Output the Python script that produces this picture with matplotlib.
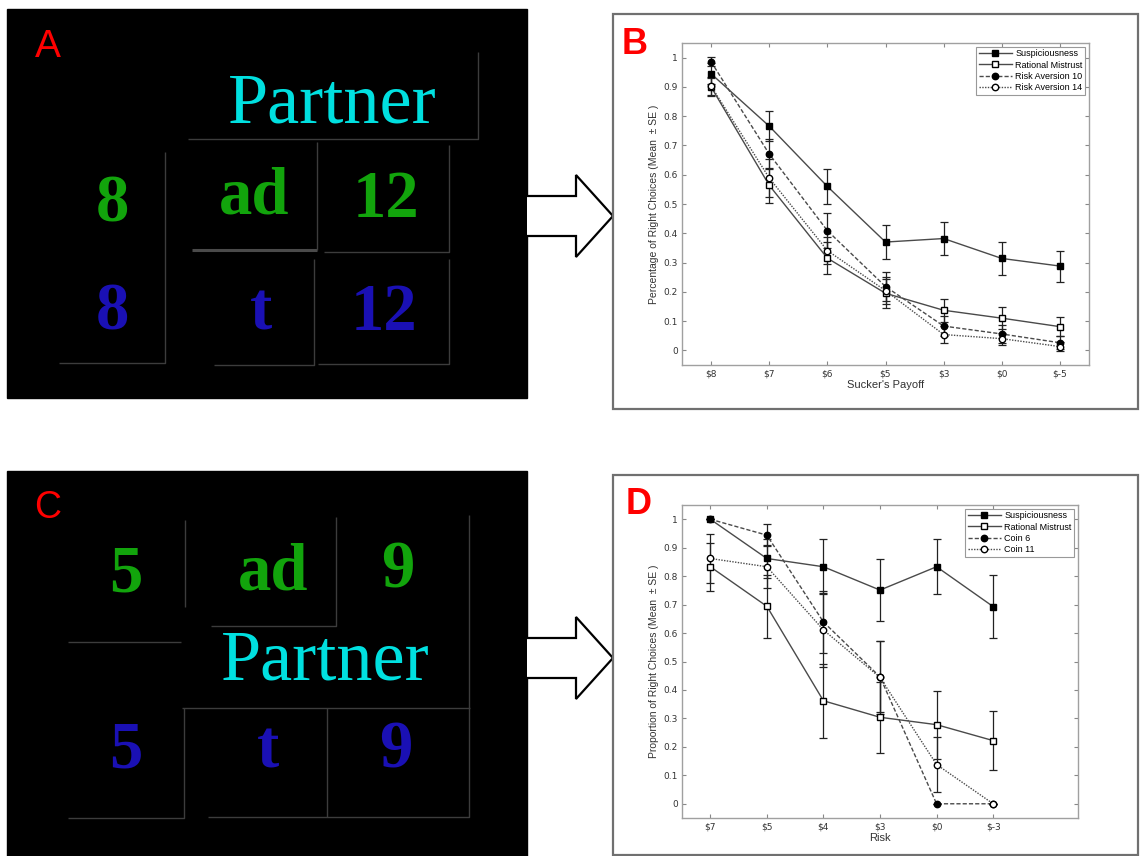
import numpy as np
import matplotlib.pyplot as plt
from matplotlib.patches import Rectangle, Polygon

# panel B data
payoff_labels = ['$8', '$7', '$6', '$5', '$3', '$0', '$-5']
b_susp = [0.945, 0.766, 0.560, 0.370, 0.382, 0.314, 0.288]
b_susp_se = [0.035, 0.050, 0.060, 0.057, 0.057, 0.055, 0.053]
b_rat = [0.900, 0.564, 0.315, 0.195, 0.137, 0.110, 0.081]
b_rat_se = [0.030, 0.060, 0.055, 0.050, 0.040, 0.037, 0.033]
b_ra10 = [0.986, 0.671, 0.409, 0.218, 0.083, 0.056, 0.026]
b_ra10_se = [0.015, 0.050, 0.060, 0.050, 0.035, 0.030, 0.022]
b_ra14 = [0.903, 0.589, 0.341, 0.204, 0.054, 0.040, 0.013]
b_ra14_se = [0.030, 0.065, 0.045, 0.045, 0.028, 0.020, 0.015]
b_names = ['Suspiciousness', 'Rational Mistrust', 'Risk Aversion 10', 'Risk Aversion 14']

# panel D data
risk_labels = ['$7', '$5', '$4', '$3', '$0', '$-3']
d_susp = [1.000, 0.862, 0.833, 0.751, 0.833, 0.693]
d_susp_se = [0.0, 0.070, 0.097, 0.110, 0.097, 0.112]
d_rat = [0.833, 0.694, 0.362, 0.304, 0.278, 0.222]
d_rat_se = [0.085, 0.110, 0.130, 0.125, 0.120, 0.104]
d_coin6 = [1.000, 0.944, 0.639, 0.446, 0.0, 0.0]
d_coin6_se = [0.0, 0.038, 0.110, 0.125, 0.0, 0.0]
d_coin11 = [0.862, 0.833, 0.611, 0.444, 0.138, 0.0]
d_coin11_se = [0.086, 0.075, 0.130, 0.127, 0.095, 0.0]
d_names = ['Suspiciousness', 'Rational Mistrust', 'Coin 6', 'Coin 11']

W, H = 1141, 856
fig = plt.figure(figsize=(W / 100, H / 100), dpi=100)
fig.patch.set_facecolor('white')

# pixel-space canvas for the schematic panels, arrows and frames
bg = fig.add_axes([0, 0, 1, 1])
bg.set_xlim(0, W)
bg.set_ylim(H, 0)
bg.axis('off')

green = '#12a40c'
blue = '#1a10b4'
cyan = '#00e0e0'
grey = '#3c3c3c'
serif = 'Liberation Serif'
sans = 'Liberation Sans'

bg.add_patch(Rectangle((7, 9), 520, 389, color='black'))
bg.add_patch(Rectangle((7, 471), 520, 385, color='black'))


def seg(pts, c=grey, lw=1.0):
    xs, ys = zip(*pts)
    bg.plot(xs, ys, color=c, lw=lw, solid_capstyle='butt')


# panel A
bg.text(48, 57, 'A', color='red', fontsize=28, family=sans, ha='center', va='baseline')
bg.text(332, 122, 'Partner', color=cyan, fontsize=52, family=serif, ha='center', va='baseline')
for x, y, s, c in [(112, 221, '8', green), (254, 213, 'ad', green), (386, 217, '12', green),
                   (112, 329, '8', blue), (261, 330, 't', blue), (384, 330, '12', blue)]:
    bg.text(x, y, s, color=c, fontsize=48, family=serif, weight='bold', ha='center', va='baseline')
seg([(188, 139), (478, 139), (478, 52)])
seg([(59, 363), (165, 363), (165, 152)])
seg([(192, 250), (317, 250)], c='#4a4a4a', lw=2.2)
seg([(317, 250), (317, 142)])
seg([(324, 252), (449, 252), (449, 145)])
seg([(214, 365), (314, 365), (314, 259)])
seg([(318, 364), (449, 364), (449, 259)])

# panel C
bg.text(48, 518, 'C', color='red', fontsize=27, family=sans, ha='center', va='baseline')
bg.text(325, 679, 'Partner', color=cyan, fontsize=52, family=serif, ha='center', va='baseline')
for x, y, s, c in [(126, 591, '5', green), (273, 589, 'ad', green), (398, 588, '9', green),
                   (126, 768, '5', blue), (268, 767, 't', blue), (396, 767, '9', blue)]:
    bg.text(x, y, s, color=c, fontsize=48, family=serif, weight='bold', ha='center', va='baseline')
seg([(185, 520), (185, 607)])
seg([(211, 626), (336, 626), (336, 517)])
seg([(469, 515), (469, 708)])
seg([(68, 642), (181, 642)])
seg([(182, 708), (470, 708)])
seg([(68, 818), (184, 818), (184, 708)])
seg([(327, 708), (327, 817)])
seg([(208, 817), (469, 817), (469, 708)])

# arrows
for yc in (216, 658):
    bg.add_patch(Polygon([(527, yc - 20), (576, yc - 20), (576, yc - 41), (613, yc),
                          (576, yc + 41), (576, yc + 20), (527, yc + 20)],
                         closed=False, facecolor='white', edgecolor='black', lw=1.6,
                         joinstyle='miter'))

# frames for B and D
bg.add_patch(Rectangle((613, 14), 525, 395, facecolor='white', edgecolor='#707070', lw=1.6))
bg.add_patch(Rectangle((613, 475), 525, 380, facecolor='white', edgecolor='#707070', lw=1.6))
bg.text(635, 54, 'B', color='red', fontsize=26, family=sans, weight='bold', ha='center', va='baseline')
bg.text(639, 514, 'D', color='red', fontsize=26, family=sans, weight='bold', ha='center', va='baseline')

styles = [dict(ls='-', marker='s', mfc='black'),
          dict(ls='-', marker='s', mfc='white'),
          dict(ls=(0, (3, 1.5)), marker='o', mfc='black'),
          dict(ls=(0, (1, 1)), marker='o', mfc='white')]


def draw_panel(ax, labels, series, errs, names, ylabel, xlabel):
    x = np.arange(1, len(labels) + 1)
    handles = []
    for vals, se, st, nm in zip(series, errs, styles, names):
        ax.errorbar(x, vals, yerr=se, fmt='none', ecolor='#222222', elinewidth=0.9,
                    capsize=2.8, capthick=0.9, zorder=2)
        h, = ax.plot(x, vals, color='#4a4a4a', lw=1.0, ls=st['ls'], marker=st['marker'],
                     mfc=st['mfc'], mec='black', mew=1.0, ms=4.6, label=nm, zorder=3)
        handles.append(h)
    ax.set_xlim(0.5, 7.5)
    ax.set_ylim(-0.05, 1.05)
    ax.set_xticks(x)
    ax.set_xticklabels(labels)
    ax.set_yticks(np.arange(0, 1.01, 0.1))
    ax.set_yticklabels(['0'] + ['%.1f' % v for v in np.arange(0.1, 0.95, 0.1)] + ['1'])
    ax.tick_params(direction='in', top=True, right=True, length=3, width=0.8,
                   color='#888888', labelsize=6.5, labelcolor='#333333', pad=3)
    for sp in ax.spines.values():
        sp.set_color('#a0a0a0')
        sp.set_linewidth(1.0)
    ax.set_ylabel(ylabel, fontsize=7.5, color='#333333', labelpad=3, family=sans)
    ax.set_xlabel(xlabel, fontsize=8, color='#333333', labelpad=1, family=sans)
    leg = ax.legend(handles=handles, loc='upper right', handlelength=3.6,
                    fancybox=False, edgecolor='#999999', framealpha=1, borderpad=0.3,
                    labelspacing=0.25, handletextpad=0.4, borderaxespad=0.4,
                    prop={'family': sans, 'size': 6.5})
    leg.get_frame().set_linewidth(0.8)


axB = fig.add_axes([682 / W, 1 - 365 / H, 407 / W, 322 / H])
draw_panel(axB, payoff_labels, [b_susp, b_rat, b_ra10, b_ra14],
           [b_susp_se, b_rat_se, b_ra10_se, b_ra14_se], b_names,
           'Percentage of Right Choices (Mean  \u00b1 SE )', "Sucker's Payoff")

axD = fig.add_axes([682 / W, 1 - 818 / H, 396 / W, 313 / H])
draw_panel(axD, risk_labels, [d_susp, d_rat, d_coin6, d_coin11],
           [d_susp_se, d_rat_se, d_coin6_se, d_coin11_se], d_names,
           'Proportion of Right Choices (Mean  \u00b1 SE )', 'Risk')

fig.savefig('out.png', dpi=100)
